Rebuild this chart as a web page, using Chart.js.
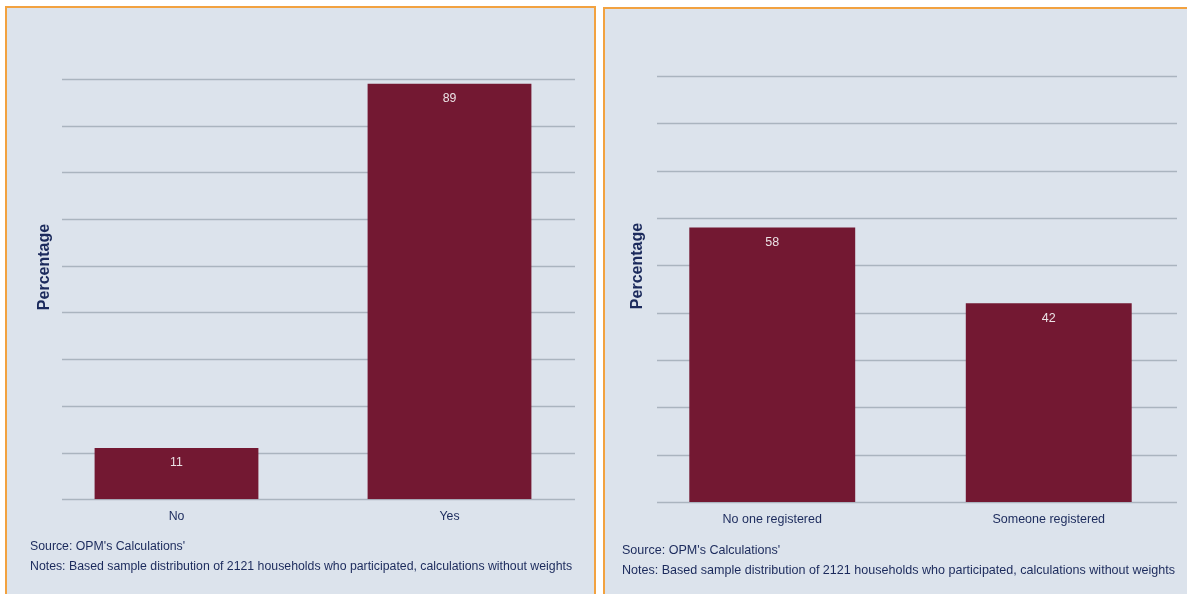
<!DOCTYPE html>
<html>
<head>
<meta charset="utf-8">
<script src="https://cdn.jsdelivr.net/npm/chart.js@4.4.1/dist/chart.umd.min.js"></script>
<style>
  html, body { margin: 0; padding: 0; background: #ffffff; width: 1187px; height: 594px; overflow: hidden; }
  .panel { position: absolute; background: #dce3ec; border: 2px solid #f2a240; box-sizing: border-box; }
  #p1 { left: 5px; top: 6px; width: 591px; height: 600px; }
  #p2 { left: 603px; top: 7px; width: 600px; height: 600px; }
  canvas.full { position: absolute; left: 0; top: 0; }
  .note { position: absolute; font-family: "Liberation Sans", Arial, sans-serif; font-size: 12.3px; color: #1b2a5c; white-space: nowrap; }
</style>
</head>
<body>
<div class="panel" id="p1"></div>
<div class="panel" id="p2"></div>
<canvas id="leftChart" class="full" width="1187" height="594"></canvas>
<canvas id="rightChart" class="full" width="1187" height="594"></canvas>
<div class="note" style="left:30px; top:539px;">Source: OPM's Calculations'</div>
<div class="note" style="left:30px; top:559px;">Notes: Based sample distribution of 2121 households who participated, calculations without weights</div>
<div class="note" style="left:622px; top:543px; font-size:12.55px;">Source: OPM's Calculations'</div>
<div class="note" style="left:622px; top:563px; font-size:12.55px;">Notes: Based sample distribution of 2121 households who participated, calculations without weights</div>
<script>
const leftCategories = ['No', 'Yes'];
const leftValues = [11, 89];
const rightCategories = ['No one registered', 'Someone registered'];
const rightValues = [58, 42];
const yMax = 90;
const yStep = 10;

const barColor = '#731832';
const navy = '#1b2a5c';
const fontFamily = '"Liberation Sans", Arial, sans-serif';

// gridlines are shorter than the category band, so draw them from the y scale ticks
const gridAndLabels = {
    id: 'gridAndLabels',
    beforeDatasetsDraw(chart, args, opts) {
        const ctx = chart.ctx;
        const y = chart.scales.y;
        ctx.save();
        ctx.strokeStyle = '#aab4bf';
        ctx.lineWidth = 1.3;
        y.ticks.forEach(t => {
            const py = Math.round(y.getPixelForValue(t.value)) + 0.5;
            ctx.beginPath();
            ctx.moveTo(opts.gridFrom, py);
            ctx.lineTo(opts.gridTo, py);
            ctx.stroke();
        });
        // y axis title
        ctx.translate(opts.titleX, opts.titleY);
        ctx.rotate(-Math.PI / 2);
        ctx.fillStyle = navy;
        ctx.font = 'bold 16px ' + fontFamily;
        ctx.textAlign = 'center';
        ctx.textBaseline = 'middle';
        ctx.fillText('Percentage', 0, 0);
        ctx.restore();
    },
    afterDatasetsDraw(chart, args, opts) {
        const ctx = chart.ctx;
        const meta = chart.getDatasetMeta(0);
        const data = chart.data.datasets[0].data;
        ctx.save();
        ctx.fillStyle = '#ebe2e5';
        ctx.font = opts.fontSize + 'px ' + fontFamily;
        ctx.textAlign = 'center';
        ctx.textBaseline = 'middle';
        meta.data.forEach((bar, i) => {
            ctx.fillText(String(data[i]), bar.x, bar.y + 15);
        });
        ctx.restore();
    }
};

function makeChart(id, labels, values, pad, pluginOpts) {
    return new Chart(document.getElementById(id).getContext('2d'), {
        type: 'bar',
        data: {
            labels: labels,
            datasets: [{
                data: values,
                backgroundColor: barColor,
                borderWidth: 0,
                categoryPercentage: 1,
                barPercentage: 0.6
            }]
        },
        options: {
            responsive: false,
            animation: false,
            layout: { padding: pad },
            plugins: {
                legend: { display: false },
                tooltip: { enabled: false },
                gridAndLabels: pluginOpts
            },
            scales: {
                x: {
                    grid: { display: false, drawTicks: false },
                    border: { display: false },
                    ticks: { color: navy, font: { family: fontFamily, size: pluginOpts.fontSize }, padding: 10 }
                },
                y: {
                    display: false,
                    min: 0,
                    max: yMax,
                    ticks: { stepSize: yStep }
                }
            }
        },
        plugins: [gridAndLabels]
    });
}

makeChart('leftChart', leftCategories, leftValues,
    { left: 40, right: 601, top: 79, bottom: 60 },
    { gridFrom: 62, gridTo: 575, titleX: 45, titleY: 267, fontSize: 12.3 });

makeChart('rightChart', rightCategories, rightValues,
    { left: 634, right: 0, top: 76, bottom: 57 },
    { gridFrom: 657, gridTo: 1177, titleX: 638, titleY: 266, fontSize: 12.5 });
</script>
</body>
</html>
